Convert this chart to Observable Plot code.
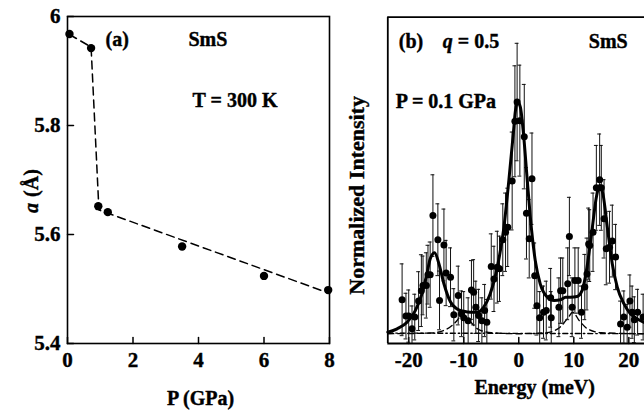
<!DOCTYPE html>
<html><head><meta charset="utf-8">
<script src="https://cdn.jsdelivr.net/npm/d3@7"></script>
<script src="https://cdn.jsdelivr.net/npm/@observablehq/plot@0.6"></script>
<style>
body{margin:0;background:#fff;}
#wrap{position:relative;width:644px;height:413px;overflow:hidden;background:#fff;}
#wrap svg{position:absolute;top:0;}
#wrap svg text{font-weight:bold;stroke:#000;stroke-width:0.4px;}
</style></head><body><div id="wrap"></div>
<script>
// ---------- Panel (a): lattice parameter vs pressure ----------
const pressure = [0.06, 0.72, 0.94, 1.23, 3.5, 6.0, 7.96];
const latticeA = [5.968, 5.942, 5.652, 5.641, 5.578, 5.524, 5.498];
const guideP = [0.06, 0.72, 0.96, 8.0];
const guideA = [5.967, 5.944, 5.645, 5.492];
const aTicksX = [0, 2, 4, 6, 8];
const aTicksY = [5.4, 5.6, 5.8, 6];

// ---------- Panel (b): normalized intensity vs energy ----------
const energy = [-21.2,-20.5,-20.0,-19.4,-18.9,-18.2,-17.7,-17.4,-16.8,-16.5,-16.1,-15.6,-14.7,-14.4,-13.6,-13.2,-12.4,-11.8,-11.0,-10.4,-10.0,-9.2,-8.6,-8.2,-7.8,-7.3,-6.7,-6.2,-5.8,-5.0,-4.5,-3.9,-3.5,-2.9,-2.4,-2.0,-1.2,-0.7,-0.3,0.2,1.0,1.4,1.9,2.4,2.9,3.3,3.8,4.5,5.0,5.8,5.9,7.3,7.6,8.0,8.9,9.2,9.7,10.2,10.8,11.4,12.0,12.4,12.7,12.9,13.5,14.1,14.7,15.0,15.5,15.9,16.5,17.0,17.6,18.5,19.1,19.7,20.2,20.6,21.0,21.6,22.6];
const intensity = [13.4,8.4,8.4,4.5,8.1,13.0,16.2,17.8,17.8,21.1,21.1,39.2,31.8,13.2,30.2,21.6,20.3,8.8,14.7,9.1,7.9,7.0,16.4,15.7,11.1,8.6,7.0,10.1,6.5,23.6,19.8,23.4,22.9,31.8,34.1,35.6,49.8,68.1,74.0,68.3,63.4,39.9,32.1,50.5,20.8,11.6,7.9,9.6,10.1,14.0,7.9,11.1,16.2,16.2,18.3,32.8,11.1,19.3,19.3,9.6,17.3,21.3,30.5,30.0,34.1,47.7,50.2,47.7,38.2,29.0,29.5,31.4,26.5,6.0,8.1,5.0,13.0,9.6,7.3,9.6,8.1];
const errorBar = [11,7,8,7,7,9,11,9,10,9,10,12.5,11,9,11,10,9,8,9,7,8,7,9,10,8,8,7,8,7,10,10,11,10,11,12,12,15,17,18,17,16,14,12,14,10,9,8,8,9,9,8,9,10,10,11,12,9,10,10,8,10,11,11,11,12,13,14,13,12,11,11,11,10,7,8,7,8,8,7,7,7];
const fitE = [-23.8,-22.1,-20.3,-18.8,-17.6,-16.7,-16.1,-15.3,-14.5,-13.6,-12.4,-11.2,-10.0,-8.8,-7.6,-6.4,-5.2,-3.9,-2.7,-1.8,-1.0,-0.6,-0.2,0.3,0.8,1.5,2.1,3.0,3.9,5.2,6.4,7.6,8.5,9.4,10.6,11.5,12.4,13.3,14.1,14.7,15.3,16.1,17.0,17.9,19.1,20.3,21.5,22.85];
const fitI = [3.5,4.5,6.5,10.1,15.2,21.3,25.9,27.8,24.4,18.3,12.7,10.6,9.9,9.6,9.6,11.1,15.2,23.4,35.6,50.0,64.2,71.4,74.0,72.4,65.3,51.0,38.7,25.4,18.3,14.2,13.2,13.4,14.2,14.2,14.4,16.2,23.4,34.6,44.8,48.4,45.8,35.6,24.4,17.3,12.2,9.1,7.6,6.4];
const sideE = [-23.8,-16,-13,-11.5,-10.3,-9,-7.5,-5,0,5,7.5,9,9.8,11,12.5,15,22.85];
const sideI = [3.0,3.2,4.5,6.5,8.6,7.0,4.5,3.3,3.0,3.3,5.0,8.0,9.6,7.0,4.5,3.3,3.0];
const bgE = [-23.8, 22.85];
const bgI = [3.2, 3.0];
const bTicksX = [-20, -10, 0, 10, 20];

const font = "'Liberation Serif', 'Times New Roman', serif";
const tickShape = {draw(c, l) { c.moveTo(0, 0); c.lineTo(0, -l); }};
const baseStyle = {background: "transparent", fontFamily: font, fontSize: "20px", fontWeight: "bold", color: "black"};
const B = {fontWeight: "bold"};

const ptsA = pressure.map((p, i) => ({p, a: latticeA[i]}));
const guide = guideP.map((p, i) => ({p, a: guideA[i]}));

const pa = Plot.plot({
  width: 335, height: 413,
  marginLeft: 67, marginRight: 6, marginTop: 16, marginBottom: 70,
  style: baseStyle,
  x: {domain: [0, 8]},
  y: {domain: [5.4, 6]},
  marks: [
    Plot.frame({stroke: "black", strokeWidth: 1.6}),
    Plot.axisX({ticks: aTicksX, tickSize: 0, tickPadding: 9, tickFormat: d => String(d), label: null, fontSize: 21, ...B}),
    Plot.axisY({ticks: aTicksY, tickSize: 0, tickPadding: 7, tickFormat: d => String(d), label: null, fontSize: 21, ...B}),
    Plot.vector(aTicksX, {x: d => d, y: 5.4, length: 6, rotate: 0, anchor: "start", shape: tickShape, stroke: "black", strokeWidth: 1.5}),
    Plot.vector(aTicksY, {x: 0, y: d => d, length: 6, rotate: 90, anchor: "start", shape: tickShape, stroke: "black", strokeWidth: 1.5}),
    Plot.line(guide, {x: "p", y: "a", stroke: "black", strokeWidth: 1.5, strokeDasharray: "8,5"}),
    Plot.dot(ptsA, {x: "p", y: "a", r: 4.2, fill: "black", stroke: "none"}),
    Plot.text(["(a)"], {frameAnchor: "top-left", dx: 38, dy: 29, textAnchor: "start", lineAnchor: "bottom", ...B}),
    Plot.text(["SmS"], {frameAnchor: "top-left", dx: 121, dy: 29, textAnchor: "start", lineAnchor: "bottom", ...B}),
    Plot.text(["T = 300 K"], {frameAnchor: "top-left", dx: 125, dy: 90, textAnchor: "start", lineAnchor: "bottom", ...B}),
    Plot.text(["P (GPa)"], {frameAnchor: "bottom", dx: 2, dy: 61, textAnchor: "middle", lineAnchor: "bottom", ...B}),
    Plot.text(["a"], {frameAnchor: "left", dx: -30, dy: 28, rotate: -90, textAnchor: "middle", lineAnchor: "bottom", fontStyle: "italic", ...B}),
    Plot.text(["(Å)"], {frameAnchor: "left", dx: -30, dy: 3, rotate: -90, textAnchor: "middle", lineAnchor: "bottom", ...B})
  ]
});

const ptsB = energy.map((E, i) => ({E, I: intensity[i], e: errorBar[i]}));
const fit = fitE.map((E, i) => ({E, I: fitI[i]}));
const side = sideE.map((E, i) => ({E, I: sideI[i]}));
const bg = bgE.map((E, i) => ({E, I: bgI[i]}));

const pb = Plot.plot({
  width: 314, height: 413,
  marginLeft: 57.3, marginRight: 0, marginTop: 16.7, marginBottom: 70,
  style: baseStyle,
  x: {domain: [-23.8, 22.85]},
  y: {domain: [0, 100], axis: null},
  marks: [
    Plot.ruleX([-23.8], {stroke: "black", strokeWidth: 1.8}),
    Plot.ruleY([0, 100], {stroke: "black", strokeWidth: 1.8}),
    Plot.axisX({ticks: bTicksX, tickSize: 0, tickPadding: 9, tickFormat: d => String(d), label: null, fontSize: 21, ...B}),
    Plot.vector(bTicksX, {x: d => d, y: 0, length: 6, rotate: 0, anchor: "start", shape: tickShape, stroke: "black", strokeWidth: 1.5}),
    Plot.line(bg, {x: "E", y: "I", stroke: "black", strokeWidth: 1.4, strokeDasharray: "5,3,1.5,3"}),
    Plot.line(side, {x: "E", y: "I", stroke: "black", strokeWidth: 1.4, strokeDasharray: "6,4", curve: "monotone-x"}),
    Plot.ruleX(ptsB, {x: "E", y1: d => d.I - d.e, y2: d => d.I + d.e, stroke: "#111", strokeWidth: 1, clip: true}),
    Plot.ruleY(ptsB, {y: d => d.I + d.e, x1: d => d.E - 0.35, x2: d => d.E + 0.35, stroke: "#111", strokeWidth: 1, clip: true}),
    Plot.ruleY(ptsB, {y: d => d.I - d.e, x1: d => d.E - 0.35, x2: d => d.E + 0.35, stroke: "#111", strokeWidth: 1, clip: true}),
    Plot.line(fit, {x: "E", y: "I", stroke: "black", strokeWidth: 3, curve: "monotone-x"}),
    Plot.dot(ptsB, {x: "E", y: "I", r: 3.5, fill: "black", stroke: "none"}),
    Plot.text(["(b)"], {frameAnchor: "top-left", dx: 11, dy: 31, textAnchor: "start", lineAnchor: "bottom", ...B}),
    Plot.text(["q"], {frameAnchor: "top-left", dx: 55, dy: 31, textAnchor: "start", lineAnchor: "bottom", fontStyle: "italic", ...B}),
    Plot.text(["= 0.5"], {frameAnchor: "top-left", dx: 70, dy: 31, textAnchor: "start", lineAnchor: "bottom", ...B}),
    Plot.text(["SmS"], {frameAnchor: "top-left", dx: 201, dy: 31, textAnchor: "start", lineAnchor: "bottom", ...B}),
    Plot.text(["P = 0.1 GPa"], {frameAnchor: "top-left", dx: 8, dy: 91, textAnchor: "start", lineAnchor: "bottom", ...B}),
    Plot.text(["Energy (meV)"], {frameAnchor: "bottom", dx: 18.5, dy: 50, textAnchor: "middle", lineAnchor: "bottom", ...B}),
    Plot.text(["Normalized Intensity"], {frameAnchor: "left", dx: -23.5, dy: 15, rotate: -90, textAnchor: "middle", lineAnchor: "bottom", fontSize: 22, ...B})
  ]
});

const wrap = document.getElementById("wrap");
pa.style.left = "0px";
pb.style.left = "330px";
wrap.appendChild(pa);
wrap.appendChild(pb);
</script>
</body></html>
